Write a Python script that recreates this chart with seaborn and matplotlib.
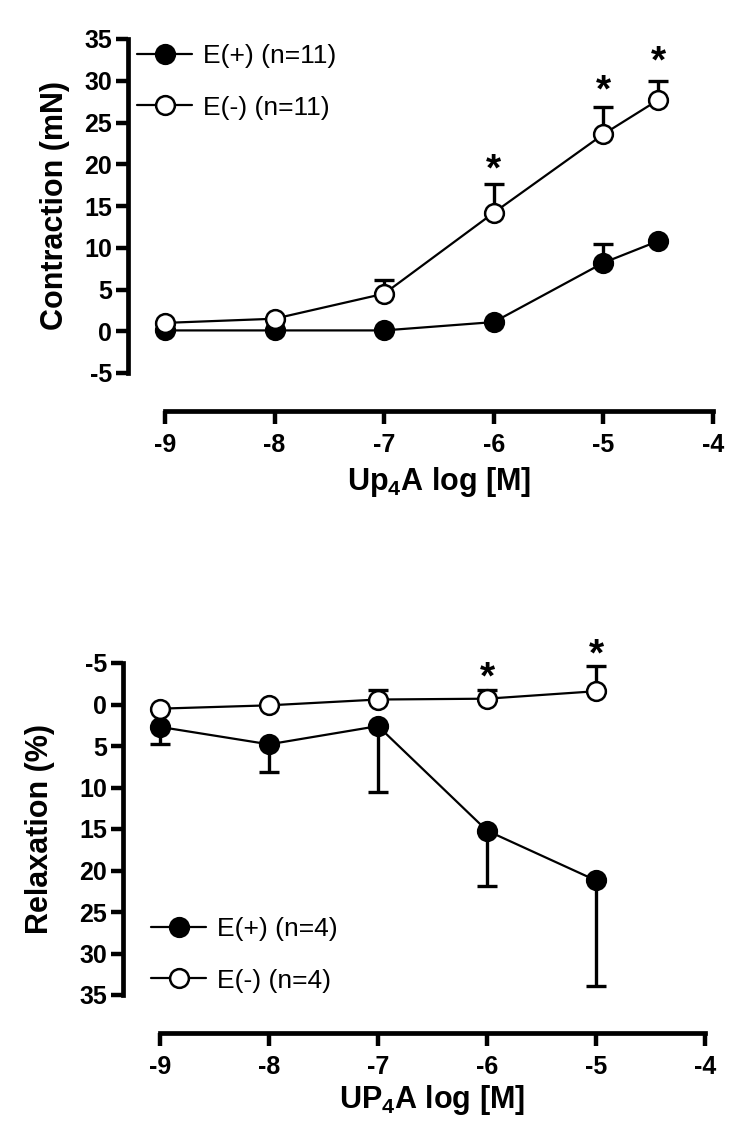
import matplotlib
matplotlib.use("Agg")
import pandas as pd
import seaborn as sns
from matplotlib import pyplot as plt
from matplotlib.transforms import offset_copy

# top panel: contraction (mN), mean and upper SEM (0 = bar hidden by marker)
conc_top = [-9, -8, -7, -6, -5, -4.5]
contr_pos = [0.1, 0.1, 0.1, 1.1, 8.2, 10.8]
contr_pos_sem = [0, 0, 0, 0, 2.3, 0]
contr_neg = [1.0, 1.5, 4.5, 14.2, 23.6, 27.7]
contr_neg_sem = [0, 0, 1.6, 3.4, 3.3, 2.3]
stars_top_x = [-6, -5, -4.5]
stars_top_y = [20.4, 29.9, 33.3]

# bottom panel: relaxation (%), axis is inverted
conc_bot = [-9, -8, -7, -6, -5]
relax_pos = [2.7, 4.8, 2.6, 15.2, 21.2]
relax_pos_sem = [2.0, 3.3, 7.9, 6.7, 12.7]
relax_neg = [0.5, 0.1, -0.6, -0.7, -1.6]
relax_neg_sem = [0, 0, 1.1, 1.1, 3.0]
stars_bot_x = [-6, -5]
stars_bot_y = [-4.3, -7.1]

x_ticks = [-9, -8, -7, -6, -5, -4]
y_ticks = [-5, 0, 5, 10, 15, 20, 25, 30, 35]

sns.set_style("ticks")
plt.rcParams["font.family"] = ["Liberation Sans", "DejaVu Sans"]
plt.rcParams["axes.unicode_minus"] = False
plt.rcParams["mathtext.fontset"] = "custom"
plt.rcParams["mathtext.rm"] = "Liberation Sans"
plt.rcParams["mathtext.bf"] = "Liberation Sans:bold"
for key in ["text.color", "axes.edgecolor", "axes.labelcolor", "xtick.color", "ytick.color"]:
    plt.rcParams[key] = "black"


def draw_series(ax, x, y, sem, filled, label, up=True):
    keep = [i for i, s in enumerate(sem) if s > 0]
    ex = [x[i] for i in keep]
    ey = [y[i] for i in keep]
    es = [sem[i] for i in keep]
    zeros = [0] * len(es)
    yerr = [zeros, es] if up else [es, zeros]
    ax.errorbar(ex, ey, yerr=yerr, fmt="none", ecolor="black", elinewidth=2.4,
                capsize=7.5, capthick=2.4, zorder=2, clip_on=False)
    df = pd.DataFrame({"conc": x, "value": y})
    sns.lineplot(data=df, x="conc", y="value", ax=ax, color="black", marker="o",
                 markersize=13.5, markerfacecolor="black" if filled else "white",
                 markeredgecolor="black", markeredgewidth=1.8, linewidth=1.6,
                 label=label, zorder=3, clip_on=False)


def add_stars(ax, xs, ys):
    trans = offset_copy(ax.transData, fig=ax.figure, y=-7, units="points")
    for sx, sy in zip(xs, ys):
        ax.text(sx, sy, "*", ha="center", va="center", fontsize=28,
                fontweight="bold", transform=trans)


def style_axes(ax, ylabel, xlabel, ylab_x, xlab_y):
    ax.set_xlim(-9, -4)
    ax.set_ylim(-5, 35)
    ax.set_xticks(x_ticks)
    ax.set_yticks(y_ticks)
    sns.despine(ax=ax, offset=27)
    for side in ["left", "bottom"]:
        ax.spines[side].set_linewidth(3.4)
    ax.tick_params(width=3.2, length=9, direction="out", labelsize=18)
    ax.tick_params(axis="y", pad=2)
    ax.tick_params(axis="x", pad=7)
    for lbl in ax.get_xticklabels() + ax.get_yticklabels():
        lbl.set_fontweight("bold")
    ax.set_ylabel(ylabel, fontsize=22, fontweight="bold", va="center")
    ax.set_xlabel(xlabel, fontsize=22, fontweight="bold", va="center")
    ax.yaxis.set_label_coords(ylab_x, 0.5)
    ax.xaxis.set_label_coords(0.5, xlab_y)


fig = plt.figure(figsize=(7.5, 11.41), dpi=100)
ax1 = fig.add_axes([165 / 750, 1 - 373 / 1141, 548 / 750, 334 / 1141])
ax2 = fig.add_axes([160 / 750, 1 - 995 / 1141, 545 / 750, 332 / 1141])

# top panel
draw_series(ax1, conc_top, contr_pos, contr_pos_sem, True, "E(+) (n=11)")
draw_series(ax1, conc_top, contr_neg, contr_neg_sem, False, "E(-) (n=11)")
add_stars(ax1, stars_top_x, stars_top_y)
style_axes(ax1, "Contraction (mN)", r"Up$_\mathbf{4}$A log [M]", -0.2, -0.325)
ax1.legend(loc="upper left", bbox_to_anchor=(137 / 750, 1 - 44 / 1141),
           bbox_transform=fig.transFigure, frameon=False, fontsize=19,
           handlelength=2.1, handletextpad=0.4, labelspacing=1.05,
           borderpad=0, borderaxespad=0)

# bottom panel
draw_series(ax2, conc_bot, relax_pos, relax_pos_sem, True, "E(+) (n=4)", up=True)
draw_series(ax2, conc_bot, relax_neg, relax_neg_sem, False, "E(-) (n=4)", up=False)
add_stars(ax2, stars_bot_x, stars_bot_y)
style_axes(ax2, "Relaxation (%)", r"UP$_\mathbf{4}$A log [M]", -0.22, -0.316)
ax2.set_ylim(35, -5)
ax2.legend(loc="upper left", bbox_to_anchor=(151 / 750, 1 - 917 / 1141),
           bbox_transform=fig.transFigure, frameon=False, fontsize=19,
           handlelength=2.1, handletextpad=0.4, labelspacing=1.05,
           borderpad=0, borderaxespad=0)

fig.savefig("out.png", dpi=100)
